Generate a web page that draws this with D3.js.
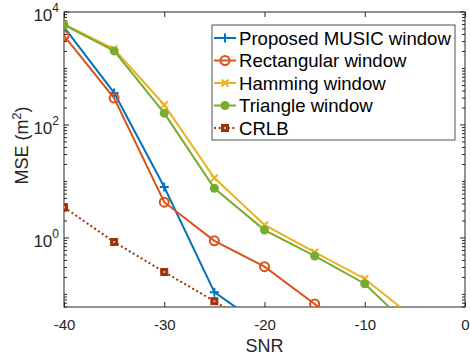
<!DOCTYPE html>
<html><head><meta charset="utf-8">
<script src="https://cdn.jsdelivr.net/npm/d3@7"></script>
<style>body{margin:0;background:#fff}svg{display:block;font-family:"Liberation Sans",Arial,sans-serif}</style>
</head><body>
<svg id="c" width="470" height="358"></svg>
<script>
const snr = [-40, -35, -30, -25, -20, -15, -10, -5, 0];
const proposed = [5400, 370, 8, 0.11, 0.026];
const rectangular = [3800, 300, 4.3, 0.89, 0.31, 0.068, 0.012];
const hamming = [6100, 2200, 226, 11.5, 1.7, 0.56, 0.19, 0.037];
const triangle = [5900, 2050, 162, 7.6, 1.38, 0.48, 0.155, 0.022];
const crlb = [3.5, 0.85, 0.25, 0.076, 0.022];
const seriesNames = ["Proposed MUSIC window", "Rectangular window", "Hamming window", "Triangle window", "CRLB"];
const xTicks = [-40, -30, -20, -10, 0];
const yTickExps = [0, 2, 4];

const series = [
  {name: seriesNames[0], vals: proposed, color: "#0072BD", marker: "plus"},
  {name: seriesNames[1], vals: rectangular, color: "#D95319", marker: "circle"},
  {name: seriesNames[2], vals: hamming, color: "#EDB120", marker: "cross"},
  {name: seriesNames[3], vals: triangle, color: "#77AC30", marker: "dot"},
  {name: seriesNames[4], vals: crlb, color: "#9E3309", marker: "square", dotted: true}
];

const L = 64, R = 465, T = 12, B = 307;
const x = d3.scaleLinear().domain([-40, 0]).range([L, R]);
const y = d3.scaleLog().domain([0.06, 1e4]).range([B, T]);
const svg = d3.select("#c");
const axisColor = "#262626";

svg.append("defs").append("clipPath").attr("id", "clip")
  .append("rect").attr("x", L).attr("y", T).attr("width", R - L).attr("height", B - T);

// axes box
svg.append("rect").attr("x", L).attr("y", T).attr("width", R - L).attr("height", B - T)
  .attr("fill", "#fff").attr("stroke", axisColor).attr("stroke-width", 1);

// x ticks (inward, bottom and top)
const gx = svg.append("g").attr("transform", `translate(0,${B})`)
  .call(d3.axisBottom(x).tickValues(xTicks).tickSize(-5).tickPadding(12).tickFormat(d => d));
gx.select(".domain").remove();
gx.selectAll("line").attr("stroke", axisColor);
gx.selectAll("text").attr("font-size", 15).attr("fill", axisColor);
const gxt = svg.append("g").attr("transform", `translate(0,${T})`)
  .call(d3.axisTop(x).tickValues(xTicks).tickSize(-5).tickFormat(""));
gxt.select(".domain").remove();
gxt.selectAll("line").attr("stroke", axisColor);

// y ticks: major + minor
const minor = [];
for (let e = -2; e <= 3; e++) for (let m = 1; m <= 9; m++) {
  const v = m * Math.pow(10, e);
  if (v >= 0.06 && v <= 1e4 && !(m === 1 && yTickExps.includes(e))) minor.push(v);
}
const majors = yTickExps.map(e => Math.pow(10, e));
[[L, 1], [R, -1]].forEach(([px, dir]) => {
  svg.append("g").selectAll("line").data(majors).join("line")
    .attr("x1", px).attr("x2", px + dir * 5).attr("y1", d => y(d)).attr("y2", d => y(d))
    .attr("stroke", axisColor);
  svg.append("g").selectAll("line").data(minor).join("line")
    .attr("x1", px).attr("x2", px + dir * 3).attr("y1", d => y(d)).attr("y2", d => y(d))
    .attr("stroke", axisColor);
});
const yl = svg.append("g").selectAll("text").data(yTickExps).join("text")
  .attr("x", 59).attr("y", e => y(Math.pow(10, e)) + 9)
  .attr("text-anchor", "end").attr("fill", axisColor).attr("font-size", 17);
yl.append("tspan").text("10");
yl.append("tspan").attr("dy", -9).attr("font-size", 12).text(e => e);

// axis labels
svg.append("text").attr("x", (L + R) / 2).attr("y", 352).attr("text-anchor", "middle")
  .attr("font-size", 18).attr("fill", axisColor).text("SNR");
const ylab = svg.append("text").attr("transform", `translate(28,${(T + B) / 2 - 14}) rotate(-90)`)
  .attr("text-anchor", "middle").attr("font-size", 18).attr("fill", axisColor);
ylab.append("tspan").text("MSE (m");
ylab.append("tspan").attr("dy", -7).attr("font-size", 13).text("2");
ylab.append("tspan").attr("dy", 7).text(")");

// markers
function drawMarker(g, m, cx, cy, color) {
  if (m === "plus") {
    g.append("path").attr("d", `M${cx-4.5},${cy}H${cx+4.5}M${cx},${cy-4.5}V${cy+4.5}`)
      .attr("stroke", color).attr("stroke-width", 2).attr("fill", "none");
  } else if (m === "cross") {
    g.append("path").attr("d", `M${cx-3.5},${cy-3.5}L${cx+3.5},${cy+3.5}M${cx-3.5},${cy+3.5}L${cx+3.5},${cy-3.5}`)
      .attr("stroke", color).attr("stroke-width", 2).attr("fill", "none");
  } else if (m === "circle") {
    g.append("circle").attr("cx", cx).attr("cy", cy).attr("r", 4.5)
      .attr("stroke", color).attr("stroke-width", 2).attr("fill", "none");
  } else if (m === "dot") {
    g.append("circle").attr("cx", cx).attr("cy", cy).attr("r", 4.5).attr("fill", color);
  } else if (m === "square") {
    g.append("rect").attr("x", cx - 3.5).attr("y", cy - 3.5).attr("width", 7).attr("height", 7)
      .attr("fill", color).attr("stroke", color).attr("stroke-width", 1);
    g.append("rect").attr("x", cx - 1).attr("y", cy - 1).attr("width", 2).attr("height", 2)
      .attr("fill", "#e0b0a0");
  }
}

const plot = svg.append("g").attr("clip-path", "url(#clip)");
const line = d3.line().x((d, i) => x(snr[i])).y(d => y(d));
series.forEach(s => {
  plot.append("path").datum(s.vals).attr("d", line).attr("fill", "none")
    .attr("stroke", s.color).attr("stroke-width", 2)
    .attr("stroke-dasharray", s.dotted ? "2,2.6" : null);
  s.vals.forEach((v, i) => drawMarker(plot, s.marker, x(snr[i]), y(v), s.color));
});

// legend
const lg = svg.append("g");
lg.append("rect").attr("x", 212).attr("y", 25).attr("width", 243).attr("height", 115)
  .attr("fill", "#fff").attr("stroke", axisColor).attr("stroke-width", 0.8);
series.forEach((s, i) => {
  const cy = 38 + i * 22.5;
  lg.append("line").attr("x1", 214).attr("x2", 236).attr("y1", cy).attr("y2", cy)
    .attr("stroke", s.color).attr("stroke-width", 2).attr("stroke-dasharray", s.dotted ? "2,2.6" : null);
  drawMarker(lg, s.marker, 225, cy, s.color);
  lg.append("text").attr("x", 239).attr("y", cy + 6.5).attr("font-size", 18.6)
    .attr("fill", "#000").text(s.name);
});
</script>
</body></html>
